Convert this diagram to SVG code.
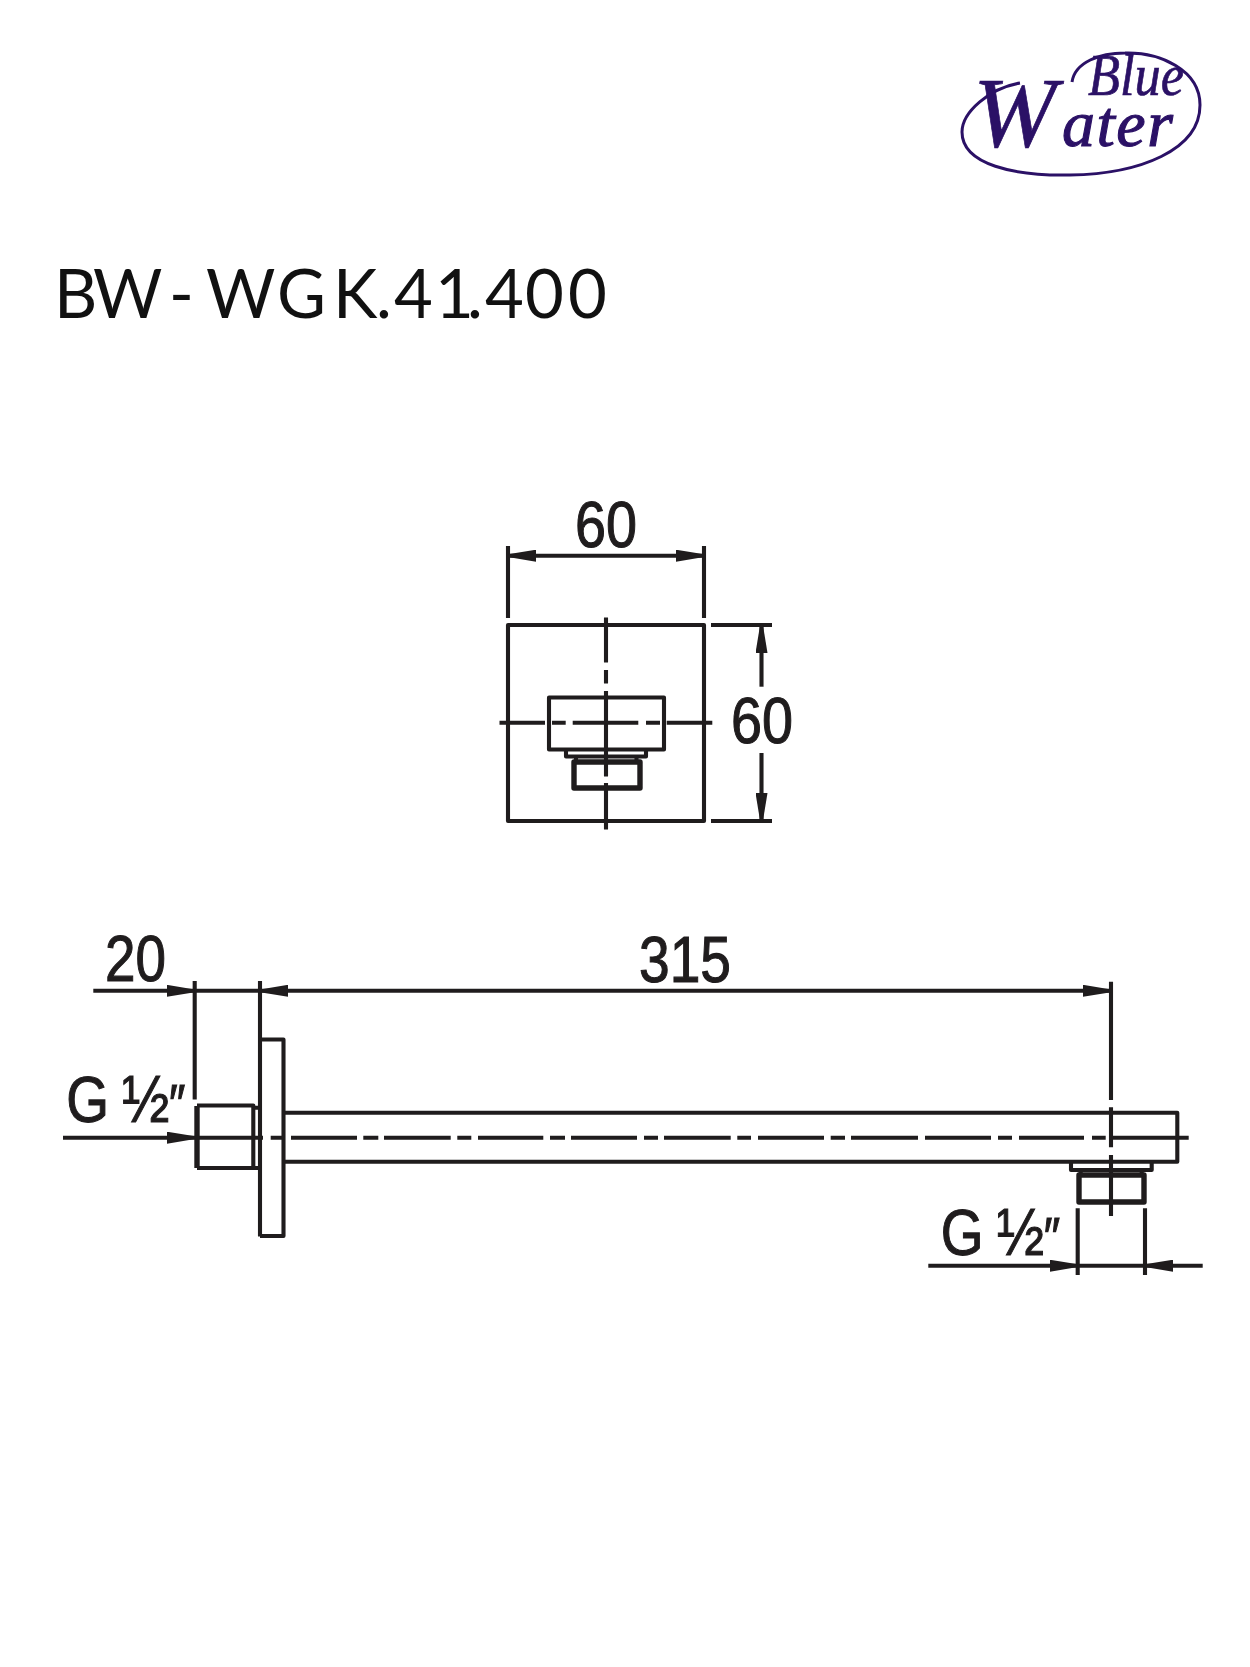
<svg xmlns="http://www.w3.org/2000/svg" width="1250" height="1667" viewBox="0 0 1250 1667">
<style>
.l{fill:none;stroke:#1f1c1d;stroke-width:4.1;stroke-linejoin:round}
.k{fill:none;stroke:#1f1c1d;stroke-width:5.4;stroke-linejoin:round}
.d{font-family:"Liberation Sans",Arial,sans-serif;font-size:64px;fill:#1f1c1d;stroke:#1f1c1d;stroke-width:1.1}
.t{font-family:Lato,"Liberation Sans",sans-serif;font-size:67px;fill:#111}
.b{font-family:"Liberation Serif","Times New Roman",serif;font-style:italic;fill:#2b1166;stroke:#2b1166;stroke-width:.7}
.a{marker-end:url(#arrow)}
.s{marker-start:url(#arrow)}
</style>
<defs>
<marker id="arrow" viewBox="0 0 28 12" refX="28" refY="6" markerWidth="28" markerHeight="12" markerUnits="userSpaceOnUse" orient="auto-start-reverse">
<path d="M0,0 L28,4.6 L28,7.4 L0,12 Z" fill="#1f1c1d"/>
</marker>
</defs>
<rect width="1250" height="1667" fill="#fff"/>
<g id="logo">
<path d="M1020,83 C990,88 962,112 962,132 C962,165 1015,176 1070,175 C1140,174 1200,150 1200,105 C1200,70 1160,52 1125,53 C1100,53 1075,62 1072,82" fill="none" stroke="#2b1166" stroke-width="3"/>
<text class="b" x="1088" y="95" font-size="60" textLength="96" lengthAdjust="spacingAndGlyphs">Blue</text>
<text class="b" y="146"><tspan x="973" font-size="100">W</tspan><tspan x="1062" font-size="66" letter-spacing="1.5" stroke-width="1.1">ater</tspan></text>
</g>
<g id="title">
<text class="t" x="54 93 169 206 277 333 376 394 435 467 485 525 568" y="317.5">BW-WGK.41.400</text>
</g>
<g id="top-view">
<rect class="l" x="508" y="625" width="196" height="196"/>
<rect class="l" x="549" y="697.5" width="115" height="52"/>
<path class="l" d="M566,750 V756.5 H646 V750 M576,757 V762 M636.5,757 V762"/>
<path class="k" d="M574,762 H640 V788 H574 Z"/>
<path class="l" d="M606,617.5 V662.5 M606,670 V683.5 M606,691 V776.5 M606,783 V829.5"/>
<path class="l" d="M499.5,722.7 H545 M552,722.7 H565.7 M572.7,722.7 H638.3 M646,722.7 H660 M666.7,722.7 H712.3"/>
</g>
<g id="side-view">
<path class="l" d="M260,1039.5 H283.5 V1236 H260"/>
<path class="l" d="M285,1112.7 H1177.3 V1161.7 H285"/>
<path class="l" d="M197,1105.5 H253.3 V1168 H197 M253.3,1107.7 H260 M253.3,1168 H260"/>
<path class="k" d="M197,1106 V1168"/>
<path class="l" d="M270.7,1137.7 H284 M291,1137.7 H357 M363.3,1137.7 H378.3 M384,1137.7 H450.7 M457.3,1137.7 H471.3 M478,1137.7 H543.3 M550,1137.7 H565 M571,1137.7 H637 M644,1137.7 H658 M664,1137.7 H730.7 M737.3,1137.7 H751 M758,1137.7 H824 M830.7,1137.7 H845 M851,1137.7 H918 M925,1137.7 H991 M998,1137.7 H1012 M1019,1137.7 H1084 M1092,1137.7 H1105.7 M1112,1137.7 H1188.7"/>
<path class="l" d="M1071,1162 V1170 H1151.7 V1162 M1080.7,1170 V1175 M1141.7,1170 V1175"/>
<path class="k" d="M1079,1175 H1144 V1202 H1079 Z"/>
<path class="l" d="M1111,1107.3 V1147.3 M1111,1155 V1216"/>
</g>
<g id="connectors">
<path class="l" d="M508,546 V618 M704,546 V618 M711,625 H772 M711,821 H772"/>
<line class="l a s" x1="508" y1="555.7" x2="704" y2="555.7"/>
<line class="l a" x1="761.5" y1="686.7" x2="761.5" y2="625"/>
<line class="l a" x1="761.5" y1="753" x2="761.5" y2="821"/>
<path class="l" d="M194.7,981 V1099.5 M260,981 V1236.5 M1111,981.7 V1100 M1077.7,1208.3 V1275 M1145,1208.3 V1275"/>
<line class="l a" x1="93.3" y1="990.8" x2="194.7" y2="990.8"/>
<line class="l" x1="194.7" y1="990.8" x2="260" y2="990.8"/>
<line class="l a s" x1="260" y1="990.8" x2="1111" y2="990.8"/>
<line class="l a" x1="63" y1="1137.7" x2="195" y2="1137.7"/>
<line class="l" x1="195" y1="1137.7" x2="263" y2="1137.7"/>
<line class="l a" x1="928.3" y1="1265.7" x2="1077.7" y2="1265.7"/>
<line class="l" x1="1077.7" y1="1265.7" x2="1145" y2="1265.7"/>
<line class="l a" x1="1202.7" y1="1265.7" x2="1145" y2="1265.7"/>
</g>
<g id="dimension-labels">
<text class="d" x="575" y="546.7" textLength="62" lengthAdjust="spacingAndGlyphs">60</text>
<text class="d" x="731" y="742.7" textLength="62" lengthAdjust="spacingAndGlyphs">60</text>
<text class="d" x="105" y="980.7" textLength="61" lengthAdjust="spacingAndGlyphs">20</text>
<text class="d" x="639" y="981.7" textLength="92" lengthAdjust="spacingAndGlyphs">315</text>
<text class="d" transform="scale(.86 1)" y="1122"><tspan x="77">G</tspan><tspan x="142" style="font-size:66px">½</tspan><tspan x="194" style="font-size:54px;font-style:italic">″</tspan></text>
<text class="d" transform="scale(.86 1)" y="1255.3"><tspan x="1094">G</tspan><tspan x="1159" style="font-size:66px">½</tspan><tspan x="1211" style="font-size:54px;font-style:italic">″</tspan></text>
</g>
</svg>
